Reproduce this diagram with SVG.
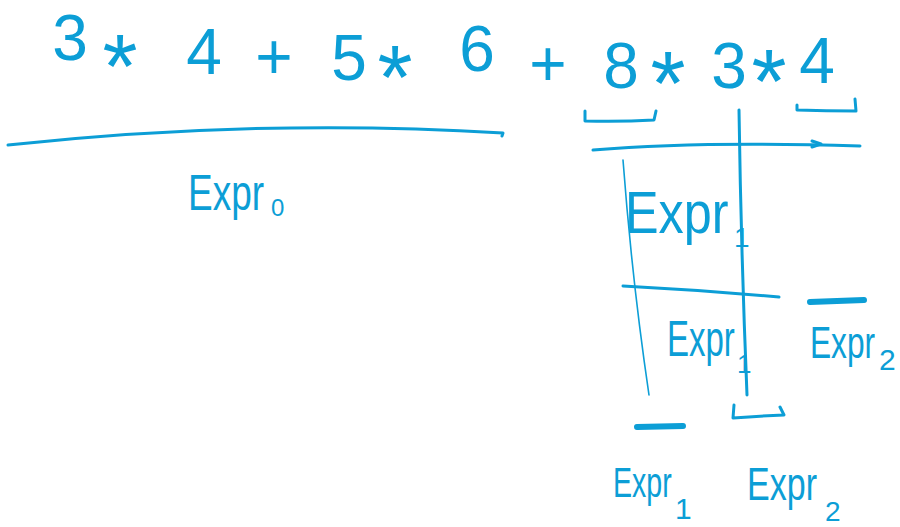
<svg xmlns="http://www.w3.org/2000/svg" width="900" height="527" viewBox="0 0 900 527">
<style>
.t{font-family:"Liberation Sans",Arial,sans-serif;fill:#0c9ed6}
.d{font-size:64px;text-anchor:middle}
.a{font-size:90px;text-anchor:middle}
.ln{fill:none;stroke:#0c9ed6;stroke-width:3;stroke-linecap:round;stroke-linejoin:round}
.thin{stroke-width:1.6}
.thick{stroke-width:6}
</style>
<rect width="900" height="527" fill="#ffffff"/>
<g id="expression" class="t">
<text class="d" x="70" y="60">3</text>
<text class="a" x="120" y="98">*</text>
<text class="d" x="204" y="74">4</text>
<text class="d" x="274" y="79">+</text>
<text class="d" x="349" y="80">5</text>
<text class="a" x="395" y="109">*</text>
<text class="d" x="477" y="71">6</text>
<text class="d" x="548" y="86">+</text>
<text class="d" x="621" y="88">8</text>
<text class="a" x="668" y="115">*</text>
<text class="d" x="729" y="88">3</text>
<text class="a" x="769" y="113">*</text>
<text class="d" x="817" y="83">4</text>
</g>
<g id="connectors">
<path class="ln" d="M8,145 Q260,118 503,133 L502,136"/>
<path class="ln" d="M585,111 L585,121 Q620,122 654,120 L656,111"/>
<path class="ln" d="M797,105 L797,110 Q826,111 856,111 L855,99"/>
<path class="ln" d="M593,150 Q700,141 860,146"/>
<path class="ln" d="M812,141 L821,144 L812,147"/>
<path class="ln" d="M739,110 Q741,250 747,395"/>
<path class="ln thin" d="M623,160 Q632,280 649,395"/>
<path class="ln" d="M623,286 Q700,290 779,297"/>
<path class="ln thick" d="M810,302 L864,300"/>
<path class="ln thick" d="M637,427 L683,426"/>
<path class="ln" d="M734,405 L733,418 Q760,416 784,415 L780,407"/>
</g>
<g id="expr0" class="t">
<text transform="translate(188,210) scale(0.74,1)" font-size="50">Expr</text>
<text x="271" y="216" font-size="24">0</text>
</g>
<g id="expr1-top" class="t">
<text transform="translate(625,233) scale(0.84,1)" font-size="60">Expr</text>
<text x="734" y="247" font-size="28">1</text>
</g>
<g id="expr1-mid" class="t">
<text transform="translate(667,356) scale(0.66,1)" font-size="50">Expr</text>
<text x="737" y="373" font-size="26">1</text>
</g>
<g id="expr2-right" class="t">
<text transform="translate(810,358) scale(0.72,1)" font-size="44">Expr</text>
<text x="879" y="370" font-size="30">2</text>
</g>
<g id="expr1-bottom" class="t">
<text transform="translate(613,497) scale(0.68,1)" font-size="42">Expr</text>
<text x="675" y="519" font-size="30">1</text>
</g>
<g id="expr2-bottom" class="t">
<text transform="translate(747,500) scale(0.74,1)" font-size="46">Expr</text>
<text x="825" y="521" font-size="28">2</text>
</g>
</svg>
